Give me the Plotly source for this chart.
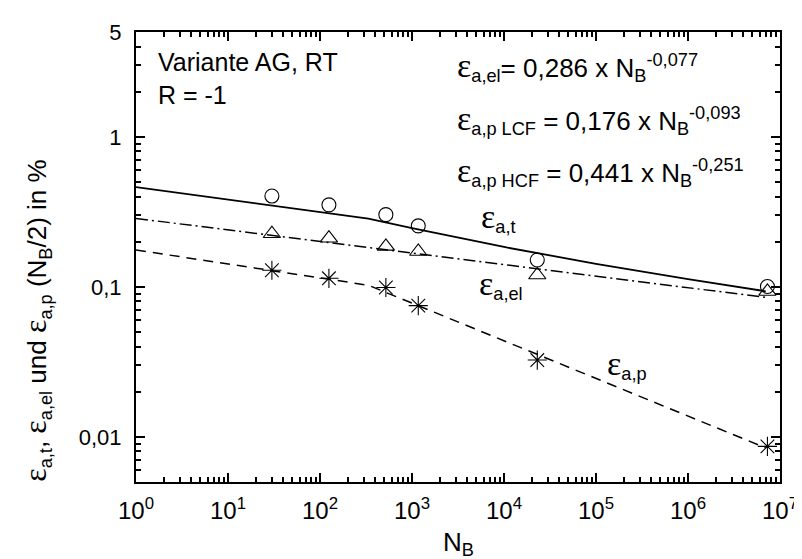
import plotly.graph_objects as go

# ---------------- data ----------------
N_exp = [30, 125, 520, 1170, 23000, 7.3e6]
eps_t = [0.403, 0.352, 0.303, 0.255, 0.151, 0.1005]
eps_el = [0.226, 0.211, 0.186, 0.172, 0.120, 0.0932]
eps_p = [0.129, 0.114, 0.099, 0.075, 0.0325, 0.00864]

N_fit = [1, 10, 100, 335, 1e3, 1e4, 1e5, 1e6, 7e6]
fit_t = [0.462, 0.3816, 0.3153, 0.2853, 0.2459, 0.1844, 0.1424, 0.1125, 0.0934]
fit_el = [0.286, 0.2395, 0.2006, 0.1828, 0.1680, 0.1407, 0.1179, 0.0987, 0.0850]
fit_p = [0.176, 0.1421, 0.1147, 0.1025, 0.0779, 0.0437, 0.0245, 0.01376, 0.00844]

x_tickvals = [1, 10, 100, 1e3, 1e4, 1e5, 1e6, 1e7]
x_ticktext = ["10<sup>%d</sup>" % i for i in range(8)]
y_tickvals = [0.01, 0.1, 1, 5]
y_ticktext = ["0,01", "0,1", "1", "5"]

FONT = "Liberation Sans, Arial, sans-serif"
W, H = 802, 559
L, R, T, B = 128, 20, 15, 85

def px(x):
    return (x - L) / (W - L - R)

def py(y):
    return (H - B - y) / (H - T - B)

fig = go.Figure()

line_c = "black"
fig.add_trace(go.Scatter(x=N_fit, y=fit_t, mode="lines",
                         line=dict(color=line_c, width=1.8), showlegend=False))
fig.add_trace(go.Scatter(x=N_fit, y=fit_el, mode="lines",
                         line=dict(color=line_c, width=1.5, dash="12px,4px,2px,4px"), showlegend=False))
fig.add_trace(go.Scatter(x=N_fit, y=fit_p, mode="lines",
                         line=dict(color=line_c, width=1.5, dash="10px,7px"), showlegend=False))

fig.add_trace(go.Scatter(x=N_exp, y=eps_t, mode="markers",
                         marker=dict(symbol="circle-open", size=14, color="black",
                                     line=dict(width=1.1)), showlegend=False))
fig.add_trace(go.Scatter(x=N_exp, y=eps_el, mode="markers",
                         marker=dict(symbol="triangle-up-open", size=15, color="black",
                                     line=dict(width=1.1)), showlegend=False))
fig.add_trace(go.Scatter(x=N_exp, y=eps_p, mode="markers",
                         marker=dict(symbol="asterisk-open", size=16, color="black",
                                     line=dict(width=1.1)), showlegend=False))

def minor_vals(lo, hi):
    vals = []
    for e in range(lo, hi):
        for m in range(2, 10):
            vals.append(m * 10 ** e)
    return vals

fig.update_xaxes(type="log", range=[0, 7], tickmode="array",
                 tickvals=x_tickvals, ticktext=x_ticktext,
                 ticks="inside", ticklen=9, tickwidth=1.5, tickcolor="black",
                 showline=True, linecolor="black", linewidth=2, mirror="ticks",
                 showgrid=False, zeroline=False, ticklabelstandoff=6,
                 tickfont=dict(family=FONT, size=24, color="black"),
                 minor=dict(tickmode="array", tickvals=minor_vals(0, 7),
                            ticks="inside", ticklen=5, tickwidth=1.5,
                            tickcolor="black", showgrid=False))
fig.update_yaxes(type="log", range=[-2.30103, 0.69897], tickmode="array",
                 tickvals=y_tickvals, ticktext=y_ticktext,
                 ticks="inside", ticklen=9, tickwidth=1.5, tickcolor="black",
                 showline=True, linecolor="black", linewidth=2, mirror="ticks",
                 showgrid=False, zeroline=False, ticklabelstandoff=8,
                 tickfont=dict(family=FONT, size=22, color="black"),
                 minor=dict(tickmode="array", tickvals=minor_vals(-3, 1),
                            ticks="inside", ticklen=5, tickwidth=1.5,
                            tickcolor="black", showgrid=False))

EPS = '<span style="font-family:Liberation Serif, DejaVu Serif, serif;font-size:34px">ε</span>'
EPS_T = '<span style="font-family:Liberation Serif, DejaVu Serif, serif;font-size:32px">ε</span>'

ann = []
def add_text(text, x, y, size=24, xanchor="left", yanchor="middle", angle=0):
    ann.append(dict(text=text, x=px(x), y=py(y), xref="paper", yref="paper",
                    xanchor=xanchor, yanchor=yanchor, showarrow=False,
                    textangle=angle,
                    font=dict(family=FONT, size=size, color="black")))

add_text("Variante AG, RT", 148, 46, size=25)
add_text("R = -1", 148, 79, size=25)
add_text(EPS + "<sub>a,el</sub>= 0,286 x N<sub>B</sub><sup>-0,077</sup>", 452, 50, size=26)
add_text(EPS + "<sub>a,p LCF</sub> = 0,176 x N<sub>B</sub><sup>-0,093</sup>", 452, 104, size=26)
add_text(EPS + "<sub>a,p HCF</sub> = 0,441 x N<sub>B</sub><sup>-0,251</sup>", 452, 157, size=26)
add_text(EPS + "<sub>a,t</sub>", 476, 204, size=26)
add_text(EPS + "<sub>a,el</sub>", 474, 273, size=26)
add_text(EPS + "<sub>a,p</sub>", 604, 354, size=26)
add_text("N<sub>B</sub>", 455, 537, size=26, xanchor="center")
add_text(EPS_T + "<sub>a,t</sub>, " + EPS_T + "<sub>a,el</sub> und " + EPS_T +
         "<sub>a,p</sub> (N<sub>B</sub>/2) in %",
         27, 310, size=26, xanchor="center", angle=-90)

fig.update_layout(width=W, height=H,
                  margin=dict(l=L, r=R, t=T, b=B),
                  paper_bgcolor="white", plot_bgcolor="white",
                  font=dict(family=FONT, color="black"),
                  annotations=ann, showlegend=False)

fig.write_html("out.html")
